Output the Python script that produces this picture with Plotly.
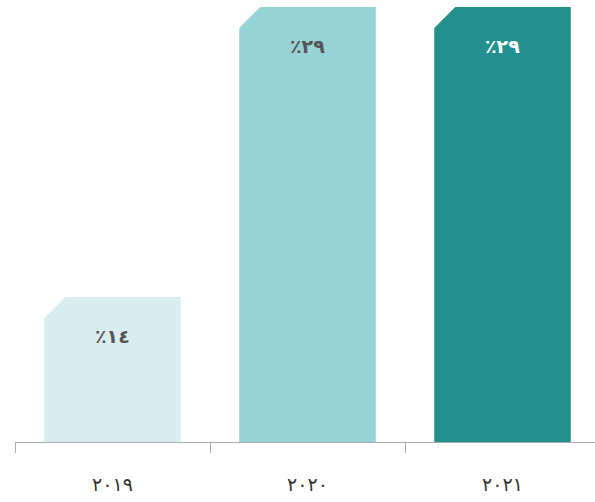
import plotly.graph_objects as go

years = ["٢٠١٩", "٢٠٢٠", "٢٠٢١"]
values = [14, 29, 29]
labels = ["٪١٤", "٪٢٩", "٪٢٩"]
colors = ["#d8edef", "#96d2d6", "#23908e"]
label_colors = ["#555555", "#555555", "#ffffff"]

BAR_W = 0.7
fig = go.Figure()
fig.add_trace(go.Bar(x=years, y=values, width=BAR_W, marker=dict(color=colors, line=dict(width=0)),
                     hoverinfo="skip", showlegend=False))

for i, (v, lab, lc) in enumerate(zip(values, labels, label_colors)):
    # chamfer on top-left corner
    fig.add_shape(type="path", xref="x", yref="y", xsizemode="pixel", ysizemode="pixel",
                  xanchor=i - BAR_W / 2, yanchor=v,
                  path="M -1 1 L 22 1 L -1 -22 Z", fillcolor="white", line=dict(width=0), layer="above")
    fig.add_annotation(x=i, y=v, xref="x", yref="y", text="<b>" + lab + "</b>", showarrow=False,
                       yanchor="middle", yshift=-39,
                       font=dict(size=19, color=lc, family="DejaVu Sans"))

fig.update_layout(
    width=595, height=502,
    margin=dict(l=15, r=0, t=0, b=60),
    paper_bgcolor="white", plot_bgcolor="white",
    bargap=0.3,
    xaxis=dict(type="category", range=[-0.5, -0.5 + 580 / 195], showline=True, linecolor="#aaaaaa",
               linewidth=1, ticks="outside", tickson="boundaries", ticklen=10, tickcolor="#aaaaaa",
               showgrid=False, ticklabelstandoff=25,
               tickfont=dict(size=19, color="#333333", family="DejaVu Sans")),
    yaxis=dict(range=[6.5, 6.5 + 442 / (145 / 7.5)], visible=False, showgrid=False),
)

fig.write_html("out.html")
